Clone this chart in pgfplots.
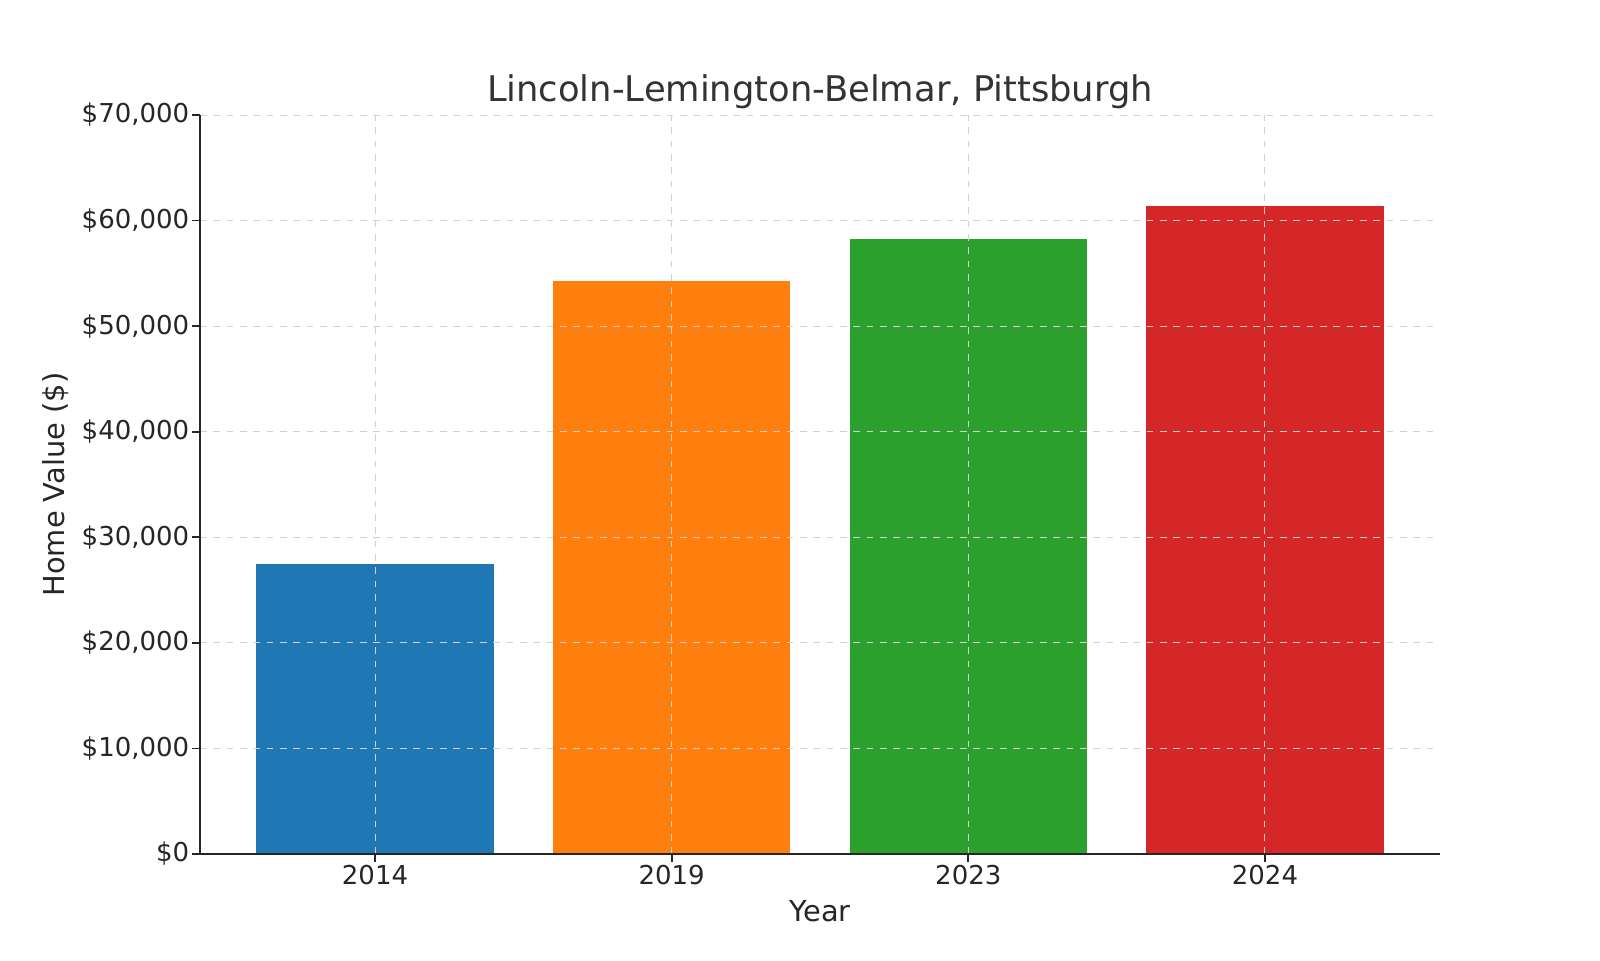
\documentclass[border=0pt]{standalone}
\usepackage{pgfplots}
\pgfplotsset{compat=1.18}
\usepackage{fontspec}
\setmainfont{DejaVu Sans}
\definecolor{c1}{HTML}{1F77B4}
\definecolor{c2}{HTML}{FF7F0E}
\definecolor{c3}{HTML}{2CA02C}
\definecolor{c4}{HTML}{D62728}
\definecolor{txt}{HTML}{262626}
\begin{document}
\begin{tikzpicture}
\useasboundingbox (-90pt,-47.7pt) rectangle (630pt,384.3pt);
\begin{axis}[
  at={(0,0)}, anchor=south west,
  scale only axis,
  width=558pt, height=332.55pt,
  xmin=-0.59, xmax=3.59,
  ymin=0, ymax=70000,
  xtick={0,1,2,3},
  xticklabels={2014,2019,2023,2024},
  ytick={0,10000,20000,30000,40000,50000,60000,70000},
  scaled y ticks=false,
  yticklabel={\$\pgfmathprintnumber{\tick}},
  /pgf/number format/.cd, fixed, 1000 sep={,}, assume math mode=true, /pgfplots/.cd,
  ticklabel style={font=\fontsize{11.7}{14}\selectfont, text=txt},
  xticklabel style={yshift=2pt},
  yticklabel style={xshift=2.2pt},
  axis x line*=bottom, axis y line*=left,
  axis line style={-, draw=txt, line width=0.9pt},
  tick align=outside, major tick length=3.5pt,
  tick style={draw=txt, line width=0.8pt},
  xtick pos=bottom, ytick pos=left,
  grid=major,
  major grid style={dashed, draw=black!18, line width=0.45pt},
  axis on top,
  title={Lincoln-Lemington-Belmar, Pittsburgh},
  title style={at={(axis description cs:0.5,1)}, anchor=center, yshift=4.6pt, font=\fontsize{15.9}{19}\selectfont, text=black!80},
  xlabel={Year},
  xlabel style={at={(axis description cs:0.5,0)}, anchor=center, yshift=-25.7pt, font=\fontsize{13}{15.6}\selectfont, text=txt},
  ylabel={Home Value (\$)},
  ylabel style={at={(axis description cs:0,0.5)}, anchor=center, yshift=64.8pt, font=\fontsize{13}{15.6}\selectfont, text=txt},
  ybar, bar width=0.8, bar shift=0pt,
]
\addplot[fill=c1, draw=none] coordinates {(0,27500)};
\addplot[fill=c2, draw=none] coordinates {(1,54300)};
\addplot[fill=c3, draw=none] coordinates {(2,58300)};
\addplot[fill=c4, draw=none] coordinates {(3,61400)};
\end{axis}
\end{tikzpicture}
\end{document}
